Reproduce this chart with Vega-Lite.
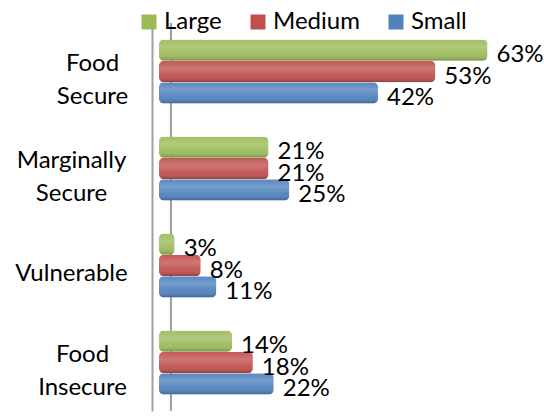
{
  "$schema": "https://vega.github.io/schema/vega-lite/v6.json",
  "width": 365,
  "height": 388,
  "autosize": "none",
  "padding": {"top": 23, "left": 159, "right": 20, "bottom": 5},
  "background": "white",
  "config": {"view": {"stroke": null}, "font": "Lato"},
  "data": {
    "values": [
      {"cat": "Food Secure", "size": "Large", "value": 0.63},
      {"cat": "Food Secure", "size": "Medium", "value": 0.53},
      {"cat": "Food Secure", "size": "Small", "value": 0.42},
      {"cat": "Marginally Secure", "size": "Large", "value": 0.21},
      {"cat": "Marginally Secure", "size": "Medium", "value": 0.21},
      {"cat": "Marginally Secure", "size": "Small", "value": 0.25},
      {"cat": "Vulnerable", "size": "Large", "value": 0.03},
      {"cat": "Vulnerable", "size": "Medium", "value": 0.08},
      {"cat": "Vulnerable", "size": "Small", "value": 0.11},
      {"cat": "Food Insecure", "size": "Large", "value": 0.14},
      {"cat": "Food Insecure", "size": "Medium", "value": 0.18},
      {"cat": "Food Insecure", "size": "Small", "value": 0.22}
    ]
  },
  "layer": [
    {
      "mark": {"type": "rule", "color": "#a0a0a0", "strokeWidth": 2},
      "encoding": {"x": {"datum": 0.023, "type": "quantitative", "scale": {"domain": [0, 0.7]}, "axis": null}}
    },
    {
      "encoding": {
        "y": {
          "field": "cat", "type": "nominal",
          "sort": ["Food Secure", "Marginally Secure", "Vulnerable", "Food Insecure"],
          "scale": {"paddingInner": 0.34, "paddingOuter": 0.17},
          "axis": {
            "title": null, "ticks": false, "offset": 7,
            "domainColor": "#a0a0a0", "domainWidth": 2,
            "labelFont": "Lato", "labelFontSize": 24, "labelColor": "black",
            "labelAlign": "center", "labelLineHeight": 33,
            "labelPadding": {"condition": [{"test": "datum.value == 'Food Secure'", "value": 60}, {"test": "datum.value == 'Food Insecure'", "value": 70}], "value": 81},
            "labelOffset": {"condition": {"test": "datum.value == 'Vulnerable'", "value": 8}, "value": -8},
            "labelExpr": "datum.value == 'Food Secure' ? ['Food','Secure'] : datum.value == 'Marginally Secure' ? ['Marginally','Secure'] : datum.value == 'Food Insecure' ? ['Food','Insecure'] : datum.value"
          }
        },
        "yOffset": {"field": "size", "type": "nominal", "sort": ["Large", "Medium", "Small"]},
        "x": {
          "field": "value", "type": "quantitative",
          "scale": {"domain": [0, 0.7]},
          "axis": null
        }
      },
      "layer": [
        {
          "mark": {"type": "bar", "cornerRadius": 5, "stroke": null},
          "encoding": {
            "color": {
              "field": "size", "type": "nominal",
              "sort": ["Large", "Medium", "Small"],
              "scale": {"domain": ["Large", "Medium", "Small"], "range": ["#9BBB59", "#C0504D", "#4F81BD"]},
              "legend": {
                "title": null, "orient": "none", "direction": "horizontal",
                "legendX": -22, "legendY": -13,
                "symbolType": "square", "symbolSize": 225, "symbolStrokeWidth": 0,
                "labelFont": "Lato", "labelFontSize": 24, "labelColor": "black",
                "labelOffset": 3, "columnPadding": 24
              }
            }
          }
        },
        {
          "mark": {
            "type": "bar", "cornerRadius": 5,
            "fill": {
              "gradient": "linear", "x1": 0, "y1": 0, "x2": 0, "y2": 1,
              "stops": [
                {"offset": 0, "color": "rgba(255,255,255,0.05)"},
                {"offset": 0.35, "color": "rgba(255,255,255,0.22)"},
                {"offset": 0.7, "color": "rgba(255,255,255,0.05)"},
                {"offset": 1, "color": "rgba(0,0,0,0.25)"}
              ]
            }
          }
        },
        {
          "mark": {"type": "text", "align": "left", "baseline": "middle", "dx": 9, "dy": 5, "fontSize": 24, "font": "Lato", "color": "black"},
          "encoding": {
            "text": {"field": "value", "type": "quantitative", "format": ".0%"}
          }
        }
      ]
    }
  ]
}
